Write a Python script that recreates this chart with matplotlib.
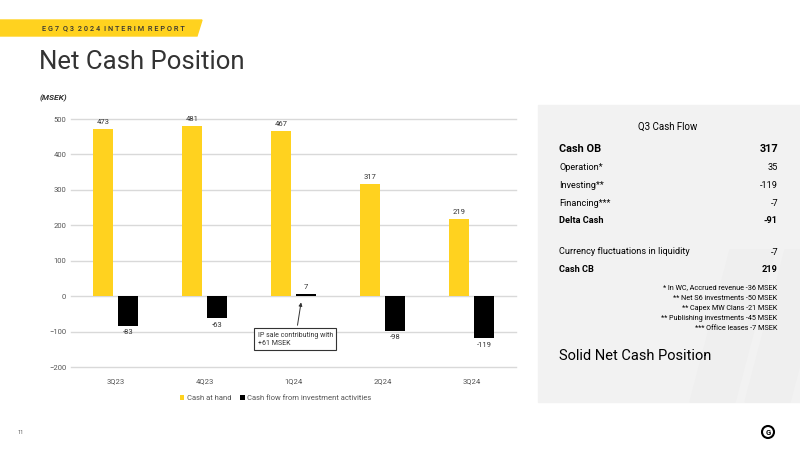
import matplotlib.pyplot as plt
import matplotlib.patches as mpatches
import numpy as np

plt.rcParams['font.family'] = ['Roboto', 'DejaVu Sans']

quarters = ["3Q23", "4Q23", "1Q24", "2Q24", "3Q24"]
cash_at_hand = [473, 481, 467, 317, 219]
invest_flow = [-83, -63, 7, -98, -119]

flow_rows = [("Cash OB", "317", True), ("Operation*", "35", False),
             ("Investing**", "-119", False), ("Financing***", "-7", False),
             ("Delta Cash", "-91", True)]
flow_rows2 = [("Currency fluctuations in liquidity", "-7", False),
              ("Cash CB", "219", True)]
notes = ["* In WC, Accrued revenue -36 MSEK",
         "** Net S6 investments -50 MSEK",
         "** Capex MW Clans -21 MSEK",
         "** Publishing investments -45 MSEK",
         "*** Office leases -7 MSEK"]

YELLOW = "#FFD21F"
DARK = "#333333"
W, H = 800, 450


def fx(x):
    return x / W


def fy(y):
    return 1 - y / H


fig = plt.figure(figsize=(8, 4.5), dpi=100)
fig.patch.set_facecolor("white")

# header banner
banner = mpatches.Polygon([(fx(0), fy(20)), (fx(202), fy(20)), (fx(197), fy(36)), (fx(0), fy(36))],
                          closed=True, transform=fig.transFigure, color=YELLOW, zorder=0)
fig.patches.append(banner)
header = "  ".join(" ".join(w) for w in "EG7 Q3 2024 INTERIM REPORT".split())
fig.text(fx(42), fy(28.5), header, fontsize=5.3, color=DARK, va="center", ha="left", fontweight="medium")
fig.text(fx(39), fy(62), "Net Cash Position", fontsize=18.5, color=DARK, va="center", ha="left")
fig.text(fx(40), fy(98), "(MSEK)", fontsize=6, color=DARK, style="italic", va="center", fontweight="bold")

# chart
ax = fig.add_axes([fx(71), fy(367), fx(445), (367 - 119) / H])
x = np.arange(len(quarters))
bw = 0.225
off = 0.14
ax.bar(x - off, cash_at_hand, bw, color=YELLOW, label="Cash at hand", zorder=3)
ax.bar(x + off, invest_flow, bw, color="black", label="Cash flow from investment activities", zorder=3)
for i in range(len(quarters)):
    ax.text(x[i] - off, cash_at_hand[i] + 10, str(cash_at_hand[i]), ha="center", va="bottom",
            fontsize=5.5, color=DARK)
    v = invest_flow[i]
    if v >= 0:
        ax.text(x[i] + off, v + 10, str(v), ha="center", va="bottom", fontsize=5.5, color=DARK)
    else:
        ax.text(x[i] + off, v - 10, str(v), ha="center", va="top", fontsize=5.5, color=DARK)

ax.set_xlim(-0.5, len(quarters) - 0.5)
ax.set_ylim(-200, 500)
ax.set_yticks(range(-200, 501, 100))
ax.set_xticks(x)
ax.set_xticklabels(quarters)
ax.grid(axis="y", color="#D9D9D9", linewidth=1, zorder=0)
ax.set_axisbelow(True)
for s in ax.spines.values():
    s.set_visible(False)
ax.tick_params(length=0, labelsize=5.5, labelcolor="#555555")
ax.tick_params(axis="x", pad=8)
for gl in ax.get_ygridlines():
    gl.set_clip_on(False)

ax.annotate("IP sale contributing with\n+61 MSEK", xy=(2 + off - 0.05, -10), xytext=(2.02, -122),
            fontsize=5, color=DARK, ha="center", va="center", multialignment="left",
            bbox=dict(boxstyle="square,pad=0.5", fc="white", ec=DARK, lw=0.8),
            arrowprops=dict(arrowstyle="-|>", color=DARK, lw=0.7, mutation_scale=5))

leg = ax.legend(loc="upper center", bbox_to_anchor=(0.46, -0.085), ncol=2, frameon=False,
                fontsize=5.5, handlelength=0.6, handleheight=0.6, columnspacing=1.2,
                handletextpad=0.3)
for t in leg.get_texts():
    t.set_color("#555555")

# right panel
panel = mpatches.Rectangle((fx(538), fy(402)), fx(262), (402 - 105) / H, transform=fig.transFigure,
                           color="#F2F2F2", zorder=0)
fig.patches.append(panel)
for px in [(690, 735), (745, 790)]:
    stripe = mpatches.Polygon([(fx(px[0] + 40), fy(250)), (fx(px[1] + 40), fy(250)),
                               (fx(px[1]), fy(402)), (fx(px[0]), fy(402))],
                              closed=True, transform=fig.transFigure, color="#EFEFEF", zorder=0)
    fig.patches.append(stripe)

fig.text(fx(668), fy(127), "Q3 Cash Flow", fontsize=7, color="black", ha="center", va="center")
ys = [149, 167, 185, 203, 221]
for (lab, val, bold), yy in zip(flow_rows, ys):
    fsz = 7.8 if lab == "Cash OB" else 6.6
    w = "bold" if bold else "normal"
    fig.text(fx(559), fy(yy), lab, fontsize=fsz, fontweight=w, color="black", va="center")
    fig.text(fx(778), fy(yy), val, fontsize=fsz, fontweight=w, color="black", va="center", ha="right")
for (lab, val, bold), yy in zip(flow_rows2, [252, 269]):
    w = "bold" if bold else "normal"
    fig.text(fx(559), fy(yy), lab, fontsize=6.6, fontweight=w, color="black", va="center")
    fig.text(fx(778), fy(yy), val, fontsize=6.6, fontweight=w, color="black", va="center", ha="right")
for i, n in enumerate(notes):
    fig.text(fx(777), fy(288 + i * 10.2), n, fontsize=5.2, color="black", va="center", ha="right")
fig.text(fx(559), fy(356), "Solid Net Cash Position", fontsize=10.5, color="black", va="center")

# footer
fig.text(fx(17), fy(432), "11", fontsize=4, color="#555555", va="center")
logo = mpatches.Ellipse((fx(768), fy(432)), 12 / W, 12 / H, transform=fig.transFigure, fc="white",
                        ec="black", lw=1.5)
fig.patches.append(logo)
fig.text(fx(768), fy(432.3), "G", fontsize=5.5, fontweight="bold", ha="center", va="center")

fig.savefig("out.png", dpi=100)
